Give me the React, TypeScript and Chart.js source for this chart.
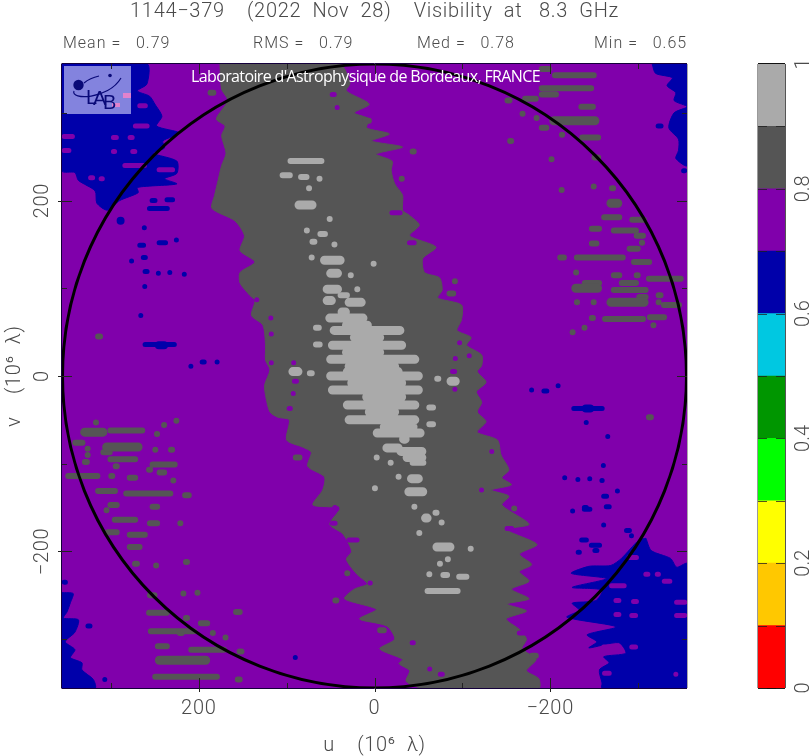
import React, { useEffect, useRef } from "react";
import { Chart, registerables } from "chart.js";

Chart.register(...registerables);

const TITLE = "1144\u2212379    (2022  Nov  28)    Visibility  at   8.3  GHz";
const STATS: [string, string][] = [["Mean =", "0.79"], ["RMS =", "0.79"], ["Med =", "0.78"], ["Min =", "0.65"]];
const CREDIT = "Laboratoire d'Astrophysique de Bordeaux, FRANCE";

const PURPLE = "#8000ab";
const BLUE = "#0000aa";
const DARK = "#555555";
const LIGHT = "#aaaaaa";
const BAND_COLORS = ["#ff0000", "#ffc800", "#ffff00", "#00ff00", "#009600", "#00c8e1", "#0000aa", "#8000ab", "#555555", "#aaaaaa"];
const BAND_STEP = [0.1, 0.1, 0.1, 0.1, 0.1, 0.1, 0.1, 0.1, 0.1, 0.1];
const UV_LIMIT = 355.7;
const UV_RADIUS = [{ x: 0, y: 0 }];

// Polygons, [u, v] in 10^6 wavelengths
const ridge: number[][] = [
  [176,356],[174,327],[167,314],[180,293],[170,285],[174,274],[169,254],[174,240],[178,223],[182,206],[185,191],[159,177],[148,160],[153,143],[136,130],[153,118],[153,106],[142,92],[136,86],[140,69],[127,58],[124,35],[124,18],[119,7],[125,-10],[124,-22],[119,-41],[110,-47],[97,-50],[100,-73],[82,-81],[72,-87],[76,-103],[57,-115],[59,-130],[70,-147],[40,-151],[51,-169],[37,-179],[32,-186],[26,-200],[32,-209],[20,-226],[8,-237],[23,-243],[34,-254],[-2,-266],[17,-277],[-14,-285],[-23,-300],[-6,-311],[-32,-323],[-28,-328],[-40,-336],[-36,-348],[-55,-356],
  [-187,-356],[-187,-345],[-173,-336],[-184,-323],[-168,-311],[-173,-300],[-165,-289],[-150,-277],[-173,-268],[-151,-260],[-176,-254],[-156,-243],[-176,-234],[-165,-223],[-179,-215],[-165,-203],[-185,-192],[-150,-175],[-176,-169],[-145,-147],[-153,-137],[-133,-130],[-156,-124],[-145,-116],[-153,-107],[-144,-90],[-140,-73],[-117,-64],[-127,-52],[-117,-41],[-122,-30],[-116,-18],[-127,-7],[-117,5],[-122,12],[-122,24],[-105,35],[-110,44],[-94,52],[-99,64],[-99,81],[-72,89],[-77,98],[-74,112],[-57,118],[-55,134],[-70,147],[-40,160],[-51,172],[-40,183],[-32,189],[-32,206],[-23,219],[-19,234],[-20,245],[-2,253],[-32,261],[3,268],[-17,276],[9,283],[6,293],[23,300],[6,310],[32,325],[28,334],[40,356],[176,356],
];
const lowTopLeft: number[][] = [
  [356,356],[259,356],[259,333],[270,325],[256,319],[250,310],[242,296],[248,285],[222,277],[241,268],[239,260],[252,254],[225,245],[225,231],[239,225],[225,219],[270,215],[269,209],[290,200],[304,189],[316,197],[318,211],[337,223],[341,232],[356,234],[356,356],
];
const lowTopRight: number[][] = [
  [-316,356],[-320,345],[-339,340],[-333,331],[-343,323],[-341,314],[-356,307],[-341,300],[-335,283],[-346,270],[-346,257],[-343,248],[-356,240],[-356,356],[-316,356],
];
const lowBottomRight: number[][] = [
  [-309,-185],[-315,-199],[-337,-208],[-344,-218],[-356,-214],[-356,-356],[-259,-356],[-259,-350],[-256,-335],[-267,-327],[-261,-320],[-286,-316],[-278,-304],[-244,-310],[-253,-303],[-242,-295],[-275,-286],[-219,-275],[-233,-267],[-225,-259],[-252,-256],[-259,-244],[-225,-241],[-264,-231],[-224,-225],[-244,-217],[-269,-216],[-281,-208],[-301,-187],[-309,-185],
];
const lowBottomLeft: number[][] = [
  [356,-247],[343,-248],[346,-258],[350,-269],[354,-276],[337,-278],[341,-292],[352,-303],[341,-312],[346,-321],[333,-327],[333,-335],[320,-346],[318,-356],[356,-356],[356,-247],
];

// Contour streaks, [v, u from, u to]
const coreRows: number[][] = [
  [73,42,28],[66,56,8],[58,37,3],[52,51,-34],[44,28,-11],[35,53,-36],[27,37,-11],[19,55,-51],[11,34,-28],[5,36,-32],[0,55,-55],[-8,31,-36],[-16,53,-55],[-24,14,-36],[-33,36,-51],[-41,11,-28],[-50,34,-51],[-58,-6,-49],[-65,2,-57],[-72,-28,-40],
];
const lightBig: number[][] = [
  [195,91,66],[132,62,34],[117,55,37],[99,59,37],[86,59,44],[84,34,10],[5,98,82],[-6,-82,-97],[-82,-9,-32],[-86,-25,-59],[-93,-32,-59],[-117,-37,-55],[-132,-34,-60],[-162,-53,-65],[-195,-66,-91],
];
const lightSmall: number[][] = [
  [245,99,57],[229,108,93],[227,87,74],[225,66,59],[214,77,72],[179,53,49],[166,80,74],[162,65,53],[153,74,65],[150,49,42],[135,74,69],[128,3,-1],[115,30,24],[92,42,28],[99,23,16],[55,70,60],[36,70,59],[3,77,68],[-3,-68,-76],[-36,-59,-70],[-55,-59,-70],[-99,-40,-59],[-99,-15,-22],[-93,0,-5],[-115,-24,-31],[-128,2,-3],[-149,-42,-49],[-156,-66,-74],[-167,-73,-80],[-179,-49,-53],[-197,-108,-111],[-209,-82,-85],[-214,-72,-77],[-226,-59,-66],[-227,-75,-86],[-229,-93,-108],[-245,-57,-98],
];
const darkBig: number[][] = [
  [-324,250,187],[-64,335,304],[-81,310,264],[291,-199,-256],[197,-264,-282],[100,-224,-259],[84,-264,-312],
];
const darkSmall: number[][] = [
  [45,318,309],[-53,320,314],[-62,304,261],[-56,242,237],[-51,227,224],[-66,251,244],[-76,344,329],[-90,329,324],[-83,329,324],[-98,333,324],[-87,312,298],[-95,304,269],[-103,298,290],[-84,252,247],[-84,235,227],[-101,256,224],[-110,248,236],[-107,260,252],[-119,231,227],[-114,352,312],[-114,303,295],[-116,282,269],[-131,318,292],[-134,286,229],[-136,219,208],[-147,304,290],[-149,256,244],[-153,307,303],[-164,299,269],[-168,259,244],[-168,224,218],[-178,307,290],[-181,282,258],[-195,282,264],[-214,276,267],[-216,252,245],[-212,218,210],[-250,259,247],[-247,204,199],[-248,219,216],[-270,260,233],[-276,218,210],[-269,161,150],[-282,201,187],[-291,258,202],[-293,225,216],[-293,187,181],[-298,173,166],[-308,250,233],[-312,212,168],[-314,157,148],[-343,253,176],[-346,159,150],
  [350,-187,-202],[343,-202,-253],[328,-187,-250],[321,-187,-210],[307,-232,-252],[283,-187,-199],[272,-233,-258],[275,-210,-217],[249,-247,-258],[247,-199,-204],[216,-247,-252],[212,-210,-216],[214,-267,-275],[181,-258,-282],[178,-290,-310],[168,-244,-259],[166,-269,-301],[160,-295,-309],[152,-301,-308],[151,-244,-256],[145,-287,-303],[135,-227,-286],[135,-208,-219],[130,-292,-316],[118,-227,-232],[115,-269,-282],[115,-295,-303],[111,-309,-352],[106,-236,-259],[98,-269,-312],[106,-278,-301],[90,-298,-312],[92,-320,-329],[84,-320,-327],[81,-326,-350],[84,-227,-234],[84,-247,-252],[66,-244,-252],[65,-259,-309],[67,-310,-333],[58,-315,-320],[55,-236,-242],[50,-224,-227],[-47,-309,-318],
  [314,-148,-157],[316,-168,-187],[299,-167,-170],[294,-182,-187],[268,-151,-159],[225,-28,-34],[256,-40,-48],[291,14,3],[94,-82,-93],[108,-90,-93],[-93,93,82],[-225,34,28],[-256,48,40],[-290,-3,-14],[-151,-156,-162],[-319,-176,-187],[323,190,180],
];
const purpleHoles: number[][] = [
  [308,270,258],[285,275,256],[273,356,341],[272,300,291],[272,281,273],[256,300,293],[256,278,270],[257,356,345],[240,287,259],[235,248,227],[226,326,318],[225,314,307],[217,353,345],
  [-207,-287,-301],[-226,-306,-314],[-226,-319,-326],[-234,-327,-339],[-239,-267,-287],[-256,-272,-281],[-257,-292,-301],[-258,-341,-356],[-272,-272,-281],[-273,-290,-300],[-273,-341,-356],[-309,-258,-273],[-309,-290,-300],[-339,-259,-270],[-340,-341,-345],
  [66,119,117],[48,119,116],[15,119,116],[15,94,90],[-6,94,86],[-20,95,90],[-37,100,93],[38,-94,-100],[20,-90,-94],[23,-105,-111],[5,-86,-94],[-15,-90,-93],[-86,-131,-136],[-130,-119,-125],[-150,48,42],[306,45,40],[152,-37,-48],[186,-17,-32],[321,51,43],[87,136,132],[-151,49,40],[-174,-148,-159],[-304,-40,-47],[-334,-60,-66],[-340,-72,-80],[-187,32,17],[-168,51,42],[-236,8,2],[-293,-162,-174],
];
const blueBig: number[][] = [[35,250,235],[-37,-236,-250],[177,293,285]];
const blueSmall: number[][] = [
  [285,-320,-329],[234,-349,-356],[200,256,247],[191,259,233],[201,239,227],[169,264,260],[152,248,235],[155,227,224],[149,270,260],[135,266,258],[131,278,275],[119,264,256],[117,248,244],[118,235,231],[116,219,214],[102,264,259],[69,267,265],[36,264,225],[16,199,191],[11,211,207],[16,182,176],[-17,-190,-199],[-11,-207,-211],[-37,-224,-262],[-53,-240,-242],[-69,-264,-267],[-102,-259,-262],[-116,-214,-219],[-118,-229,-234],[-117,-243,-247],[-119,-256,-262],[-131,-275,-278],[-137,-258,-267],[-150,-236,-244],[-149,-261,-270],[-187,-233,-244],[-193,-244,-259],[-201,-229,-236],[-199,-248,-256],[-176,-284,-293],[-182,-290,-295],[-170,-258,-264],[-152,-236,-248],[-154,-224,-227],[-235,356,349],[-285,329,321],[-346,308,306],[-16,-176,-182],[-321,93,87],
];

const FONT_FAMILY = "Roboto, 'DejaVu Sans', sans-serif";
const INK = "#4a4a4a";

function polygon(points: number[][], color: string) {
  return {
    data: points.map(([x, y]) => ({ x, y })),
    showLine: true,
    fill: "shape",
    backgroundColor: color,
    borderColor: color,
    borderWidth: 1,
    pointRadius: 0,
    tension: 0.25,
  };
}

function streaks(rows: number[][], color: string, width: number) {
  const data: { x: number | null; y: number | null }[] = [];
  rows.forEach(([v, a, b]) => {
    const trim = Math.min((width / 2) * 1.136, Math.abs(a - b) / 2);
    data.push({ x: a - trim, y: v }, { x: b + trim, y: v }, { x: null, y: null });
  });
  return {
    data,
    showLine: true,
    borderColor: color,
    backgroundColor: color,
    borderWidth: width,
    borderCapStyle: "round",
    pointRadius: 0,
    tension: 0,
    spanGaps: false,
  };
}

const label = (v: number) => (v < 0 ? "\u2212" + Math.abs(v) : String(v));

const decor = {
  id: "decor",
  beforeDraw(chart: any) {
    (chart.ctx as any).letterSpacing = "0.7px";
  },
  beforeDatasetsDraw(chart: any) {
    const { ctx, chartArea: a } = chart;
    (ctx as any).letterSpacing = "0px";
    ctx.save();
    ctx.fillStyle = PURPLE;
    ctx.fillRect(a.left, a.top, a.right - a.left, a.bottom - a.top);
    ctx.restore();
  },
  afterDatasetsDraw(chart: any) {
    const { ctx, chartArea: a, scales } = chart;
    ctx.save();
    // logo
    ctx.fillStyle = "rgb(131,131,222)";
    ctx.fillRect(64, 66, 67, 48);
    ctx.fillStyle = "rgb(225,130,205)";
    ctx.fillRect(123, 93, 8, 5);
    ctx.fillRect(112, 103, 8, 4);
    const navy = "#0a0a78";
    ctx.fillStyle = navy;
    ctx.beginPath();
    ctx.arc(78.5, 85, 5.2, 0, Math.PI * 2);
    ctx.fill();
    ctx.beginPath();
    ctx.arc(110, 75.5, 1.8, 0, Math.PI * 2);
    ctx.fill();
    ctx.strokeStyle = navy;
    ctx.lineWidth = 1.2;
    ctx.beginPath();
    ctx.moveTo(84, 83);
    ctx.quadraticCurveTo(90, 78, 99, 76);
    ctx.stroke();
    ctx.beginPath();
    ctx.moveTo(74, 91);
    ctx.bezierCurveTo(70, 100, 108, 100, 121, 78);
    ctx.stroke();
    ctx.font = "20px 'Liberation Sans Narrow', 'Liberation Sans', sans-serif";
    ctx.textBaseline = "alphabetic";
    ctx.textAlign = "left";
    ctx.fillText("L", 86, 104);
    ctx.fillText("A", 93, 105);
    ctx.fillText("B", 103, 109);
    // credit
    ctx.fillStyle = "#ffffff";
    ctx.font = "16px 'Open Sans', sans-serif";
    ctx.textAlign = "center";
    ctx.textBaseline = "middle";
    (ctx as any).letterSpacing = "-0.64px";
    ctx.fillText(CREDIT, 365.5, 77);
    (ctx as any).letterSpacing = "0px";
    // stats
    ctx.fillStyle = INK;
    ctx.font = "300 16px " + FONT_FAMILY;
    ctx.textAlign = "left";
    (ctx as any).letterSpacing = "1px";
    const xs = [63, 253, 417, 594];
    STATS.forEach(([k, v], i) => ctx.fillText(`${k}   ${v}`, xs[i], 44));
    (ctx as any).letterSpacing = "0px";
    // frame
    ctx.lineWidth = 1;
    ctx.strokeStyle = "#14003c";
    ctx.beginPath();
    ctx.moveTo(a.left - 0.5, a.top - 0.5);
    ctx.lineTo(a.right, a.top - 0.5);
    ctx.moveTo(a.left - 0.5, a.bottom + 0.5);
    ctx.lineTo(a.right, a.bottom + 0.5);
    ctx.moveTo(a.left - 0.5, a.top);
    ctx.lineTo(a.left - 0.5, a.bottom);
    ctx.stroke();
    ctx.strokeStyle = "#aaaaaa";
    ctx.beginPath();
    ctx.moveTo(a.right + 0.5, a.top);
    ctx.lineTo(a.right + 0.5, a.bottom);
    ctx.stroke();
    // ticks
    ctx.strokeStyle = "#222222";
    ctx.beginPath();
    [-300, -200, -100, 0, 100, 200, 300].forEach((t) => {
      const major = t % 200 === 0;
      const len = major ? 10 : 5;
      const px = Math.round(scales.x.getPixelForValue(t)) + 0.5;
      const py = Math.round(scales.y.getPixelForValue(t)) + 0.5;
      ctx.moveTo(px, a.bottom + (major ? 4 : 0));
      ctx.lineTo(px, a.bottom - len);
      ctx.moveTo(px, a.top);
      ctx.lineTo(px, a.top + len);
      ctx.moveTo(a.left - (major ? 4 : 0), py);
      ctx.lineTo(a.left + len, py);
      ctx.moveTo(a.right, py);
      ctx.lineTo(a.right - len, py);
    });
    ctx.stroke();
    ctx.restore();
  },
};

const barFrame = {
  id: "barFrame",
  afterDatasetsDraw(chart: any) {
    const { ctx, chartArea: a, scales } = chart;
    ctx.save();
    ctx.lineWidth = 1;
    ctx.strokeStyle = "#111111";
    ctx.beginPath();
    ctx.moveTo(a.left, a.top - 0.5);
    ctx.lineTo(a.right, a.top - 0.5);
    ctx.moveTo(a.left, a.bottom + 0.5);
    ctx.lineTo(a.right, a.bottom + 0.5);
    ctx.stroke();
    ctx.strokeStyle = "#9a9a9a";
    ctx.beginPath();
    ctx.moveTo(a.left - 0.5, a.top);
    ctx.lineTo(a.left - 0.5, a.bottom);
    ctx.stroke();
    ctx.strokeStyle = "#555555";
    ctx.beginPath();
    ctx.moveTo(a.right + 0.5, a.top);
    ctx.lineTo(a.right + 0.5, a.bottom);
    ctx.stroke();
    ctx.strokeStyle = "rgba(30,30,30,0.75)";
    ctx.beginPath();
    BAND_STEP.forEach((_, i) => {
      const y = Math.round(scales.y.getPixelForValue(i / 10)) + 0.5;
      ctx.moveTo(a.left, y);
      ctx.lineTo(a.left + 9, y);
      ctx.moveTo(a.right, y);
      ctx.lineTo(a.right - 9, y);
    });
    ctx.stroke();
    ctx.restore();
  },
};

export default function App() {
  const mainRef = useRef<HTMLCanvasElement>(null);
  const barRef = useRef<HTMLCanvasElement>(null);

  useEffect(() => {
    const layers: any[] = [
      polygon(lowTopLeft, BLUE),
      polygon(lowTopRight, BLUE),
      polygon(lowBottomRight, BLUE),
      polygon(lowBottomLeft, BLUE),
      streaks(blueSmall, BLUE, 5),
      streaks(blueBig, BLUE, 8),
      polygon(ridge, DARK),
      streaks(darkSmall, DARK, 6),
      streaks(darkBig, DARK, 9),
      streaks(purpleHoles, PURPLE, 5),
      streaks(coreRows, LIGHT, 9),
      streaks(lightSmall, LIGHT, 6),
      streaks(lightBig, LIGHT, 9),
      {
        data: UV_RADIUS,
        showLine: false,
        pointRadius: 312,
        pointBackgroundColor: "transparent",
        pointBorderColor: "#000000",
        pointBorderWidth: 3,
      },
    ];
    const datasets = layers.map((d, i) => ({ ...d, order: layers.length - i }));
    const tickFont = { family: FONT_FAMILY, size: 20, weight: "300" };
    const axisFont = { family: FONT_FAMILY, size: 20, weight: "300" };
    const main = new Chart(mainRef.current!, {
      type: "scatter",
      data: { datasets },
      plugins: [decor],
      options: {
        responsive: false,
        animation: false,
        events: [],
        layout: { autoPadding: false, padding: { left: 0, right: 123, top: 0, bottom: 0 } },
        plugins: {
          legend: { display: false },
          tooltip: { enabled: false },
          title: {
            display: true,
            text: TITLE,
            fullSize: false,
            color: INK,
            font: { family: FONT_FAMILY, size: 20, weight: "300" },
            padding: { top: 0, bottom: 40 },
          },
        },
        scales: {
          x: {
            type: "linear",
            reverse: true,
            min: -UV_LIMIT,
            max: UV_LIMIT,
            grid: { display: false, drawTicks: false },
            border: { display: false },
            afterFit: (s: any) => { s.height = 68; },
            ticks: { stepSize: 200, includeBounds: false, autoSkip: false, maxRotation: 0, padding: 9, color: INK, font: tickFont, callback: (v: any) => label(Number(v)) },
            title: { display: true, text: "u    (10\u2076  \u03bb)", color: INK, font: axisFont, padding: { top: 0, bottom: -2 } },
          },
          y: {
            type: "linear",
            min: -UV_LIMIT,
            max: UV_LIMIT,
            grid: { display: false, drawTicks: false },
            border: { display: false },
            afterFit: (s: any) => { s.width = 62; },
            ticks: { stepSize: 200, includeBounds: false, autoSkip: false, minRotation: 90, maxRotation: 90, crossAlign: "center", padding: -3, color: INK, font: tickFont, callback: (v: any) => label(Number(v)) },
            title: { display: true, text: "v    (10\u2076  \u03bb)", color: INK, font: axisFont, padding: { top: 3, bottom: 0 } },
          },
        },
      } as any,
    });

    const bar = new Chart(barRef.current!, {
      type: "bar",
      data: {
        labels: [""],
        datasets: BAND_STEP.map((step, i) => ({
          data: [step],
          backgroundColor: BAND_COLORS[i],
          borderWidth: 0,
          barPercentage: 1,
          categoryPercentage: 1,
          stack: "levels",
        })),
      },
      plugins: [barFrame],
      options: {
        responsive: false,
        animation: false,
        events: [],
        layout: { padding: { left: 68, right: 0, top: 64, bottom: 68 } },
        plugins: { legend: { display: false }, tooltip: { enabled: false }, title: { display: false } },
        scales: {
          x: { display: false, stacked: true },
          y: {
            position: "right",
            stacked: true,
            min: 0,
            max: 1,
            grid: { display: false, drawTicks: false },
            border: { display: false },
            afterFit: (s: any) => { s.width = 25; },
            ticks: { stepSize: 0.2, autoSkip: false, minRotation: 90, maxRotation: 90, crossAlign: "center", padding: 6, color: INK, font: tickFont, callback: (v: any) => String(Math.round(Number(v) * 10) / 10) },
          },
        },
      } as any,
    });

    return () => {
      main.destroy();
      bar.destroy();
    };
  }, []);

  return (
    <div style={{ position: "absolute", left: 0, top: 0, width: 810, height: 756, overflow: "hidden", background: "#fff" }}>
      <canvas ref={mainRef} width={810} height={756} style={{ position: "absolute", left: 0, top: 0 }} />
      <canvas ref={barRef} width={120} height={756} style={{ position: "absolute", left: 690, top: 0 }} />
    </div>
  );
}
